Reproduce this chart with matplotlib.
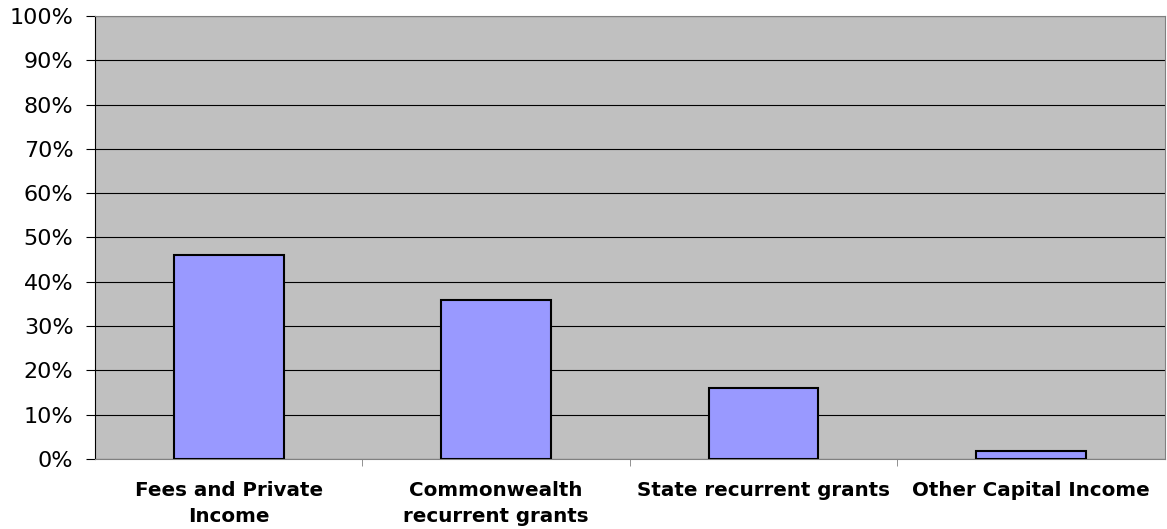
import matplotlib
matplotlib.use("Agg")
import matplotlib.pyplot as plt
from matplotlib.ticker import PercentFormatter

# Data
categories = ["Fees and Private\nIncome", "Commonwealth\nrecurrent grants",
              "State recurrent grants", "Other Capital Income"]
shares = [46.0, 36.0, 16.0, 1.8]
y_ticks = list(range(0, 101, 10))

fig = plt.figure(figsize=(11.67, 5.29), dpi=100)
ax = fig.add_axes([0.0814, 0.1323, 0.9166, 0.8375])
ax.set_facecolor("#C0C0C0")

x = list(range(len(categories)))
ax.bar(x, shares, width=0.41, color="#9999FF", edgecolor="black", linewidth=1.5, zorder=3)

ax.set_xlim(-0.5, len(categories) - 0.5)
ax.set_ylim(0, 100)
ax.set_yticks(y_ticks)
ax.yaxis.set_major_formatter(PercentFormatter(decimals=0))
ax.yaxis.grid(True, color="black", linewidth=0.8, zorder=1)

# category labels centred on bars, ticks on category boundaries
ax.set_xticks(x)
ax.set_xticklabels(categories, fontsize=14.3, fontweight="bold", linespacing=1.45)
ax.tick_params(axis="x", length=0, pad=16)
ax.set_xticks([i + 0.5 for i in x[:-1]], minor=True)
ax.tick_params(axis="x", which="minor", length=5, color="#808080")
ax.tick_params(axis="y", length=6.5, width=0.8, labelsize=16, pad=9)

ax.spines["left"].set_color("black")
for side in ("top", "right", "bottom"):
    ax.spines[side].set_color("#808080")

fig.savefig("out.png", dpi=100)
